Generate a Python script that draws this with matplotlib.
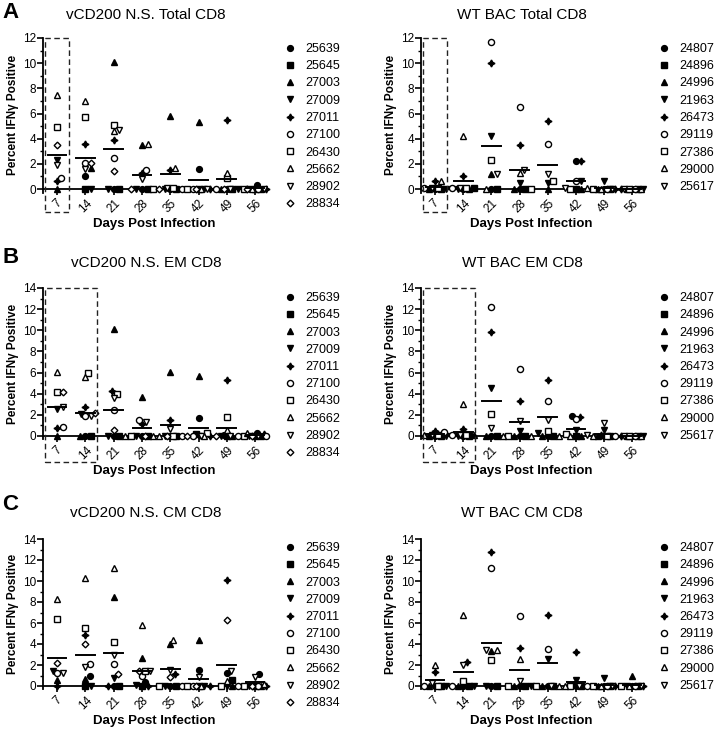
import numpy as np
import matplotlib
matplotlib.use("Agg")
import matplotlib.pyplot as plt
from matplotlib.patches import Rectangle

plt.rcParams['font.family'] = ['Liberation Sans', 'DejaVu Sans']

nan = np.nan
days = ["7", "14", "21", "28", "35", "42", "49", "56"]

vcd_ids = ["25639", "25645", "27003", "27009", "27011", "27100", "26430", "25662", "28902", "28834"]
wt_ids = ["24807", "24896", "24996", "21963", "26473", "29119", "27386", "29000", "25617"]

# rows = animals (same order as ids), columns = days
vcd_total = [
    [nan, 1.0, 0, 0, 0, 1.6, 0, 0.3],
    [nan, 0, 0, 0, 0, 0, 0, 0],
    [0, 1.7, 10.1, 3.5, 5.8, 5.3, 0, 0],
    [2.3, 0, 0, 0, 0, 0, 0, 0],
    [0.6, 3.6, 3.9, 1.3, 1.5, 0, 5.5, 0],
    [0.85, 2.1, 2.5, 1.5, 0, 0, 0, 0],
    [4.9, 5.7, 5.1, 0, 0.1, 0, 0.9, 0],
    [7.5, 7.0, 4.6, 3.6, 1.7, 0, 1.3, 0],
    [1.9, 1.6, 4.7, 0.8, 0.1, 0, 0, 0],
    [3.5, 2.1, 1.4, 0, 0, 0, 0, 0],
]
vcd_total_mean = [2.7, 2.5, 3.2, 1.1, 1.2, 0.7, 0.8, 0.05]

wt_total = [
    [0, 0, 0, 0, nan, 2.2, 0, 0],
    [0, 0.1, 0, 0, nan, 0, 0, 0],
    [0, 0, 1.2, 0, 0, 0, 0, 0],
    [0, 0, 4.2, 0.5, 0.5, 0.6, 0.6, 0],
    [0.6, 1.0, 10.0, 3.5, 5.4, 2.2, 0, 0],
    [0.1, 0.1, 11.7, 6.5, 3.6, 0.6, 0, 0],
    [0.1, 0.1, 2.3, 0, 0.6, 0, 0, 0],
    [0.6, 4.2, 0, 1.3, nan, 0.1, 0, 0],
    [0.1, 0.1, 1.2, 1.5, 1.2, 0.1, 0, 0],
]
wt_total_mean = [0.17, 0.6, 3.4, 1.5, 1.9, 0.6, 0.07, 0.03]

vcd_em = [
    [nan, 0, 0, 0, 0, 1.7, 0.1, 0.3],
    [nan, 0, 0, 0, 0, 0.2, 0, 0],
    [0, 0, 10.1, 3.7, 6.1, 5.7, 0, 0],
    [2.6, 2.1, 0, 0, 0, 0, 0, 0],
    [0.75, 2.7, 4.3, 1.1, 1.5, 0, 5.3, 0.2],
    [0.85, 1.9, 2.5, 1.5, 0, 0, 0, 0],
    [4.2, 6.0, 4.0, 0, 0, 0.3, 1.8, 0],
    [6.1, 5.6, 0, 0, 0, 0, 0.6, 0.3],
    [2.7, 1.9, 3.6, 1.3, 0.7, 0, 0, 0],
    [4.2, 2.2, 0.6, 0, 0, 0, 0, 0],
]
vcd_em_mean = [2.7, 2.2, 2.5, 0.8, 1.0, 0.8, 0.8, 0.1]

wt_em = [
    [0, 0, 0, 0, 0, 1.9, 0, 0],
    [0, 0, 0, 0, 0, 0, 0, 0],
    [0, 0.1, 0, 0, 0, 0, 0, 0],
    [0, 0, 4.5, 0.5, 0.3, 0.6, 0.6, 0],
    [0.5, 0.7, 9.8, 3.3, 5.3, 1.8, 0.1, 0],
    [0.4, 0.1, 12.2, 6.3, 3.3, 1.6, 0, 0],
    [0.1, 0.1, 2.1, 0, 0.5, 0.2, 0, 0],
    [0.1, 3.0, 0, 0, 0, 0, 0, 0],
    [0.1, 0.1, 0.8, 1.4, 1.5, 0.1, 1.2, 0],
]
wt_em_mean = [0.15, 0.4, 3.3, 1.3, 1.8, 0.7, 0.2, 0.03]

vcd_cm = [
    [nan, 1.0, 0, 0.4, 0, 1.5, 1.2, 1.1],
    [nan, 0, 0, 0, 0, 0, 0.6, 0],
    [0.6, 0.7, 8.5, 2.7, 4.0, 4.4, 0, 0],
    [1.4, 0, 0.8, 0.1, 0, 0, 0, 0],
    [0, 4.9, 0, 0, 1.1, 0, 10.1, 0],
    [1.2, 2.1, 2.1, 1.0, 0, 0, 0, 0],
    [6.4, 5.5, 4.2, 1.4, 0, 0, 0, 0],
    [8.3, 10.3, 11.2, 5.8, 4.4, 0, 0.5, 0.2],
    [1.2, 1.8, 3.0, 1.4, 1.5, 0.9, 1.4, 0.9],
    [2.2, 4.0, 1.1, 1.4, 0.9, 0, 6.3, 0],
]
vcd_cm_mean = [2.7, 3.0, 3.1, 1.4, 1.6, 0.7, 2.0, 0.35]

wt_cm = [
    [0, 0, 0, 0, 0, 0, 0, 0],
    [0, 0, 0, 0, 0, 0, 0, 0],
    [0, 0, 3.3, 0, 0, 0.2, 0, 1.0],
    [0, 0, 0, 0, 2.6, 0.6, 0.8, 0],
    [1.3, 2.3, 12.8, 3.6, 6.8, 3.2, 0, 0],
    [0, 0, 11.2, 6.7, 3.5, 0, 0, 0],
    [0, 0.5, 2.5, 0, 0, 0, 0, 0],
    [2.0, 6.8, 3.4, 2.6, 0, 0, 0, 0],
    [0.3, 2.0, 3.4, 0.5, 0, 0, 0, 0],
]
wt_cm_mean = [0.6, 1.3, 4.1, 1.5, 2.2, 0.4, 0.1, 0.1]

titles = ["vCD200 N.S. Total CD8", "WT BAC Total CD8",
          "vCD200 N.S. EM CD8", "WT BAC EM CD8",
          "vCD200 N.S. CM CD8", "WT BAC CM CD8"]

# marker styles: (marker, filled, size)
styles = [('o', True, 4.2), ('s', True, 3.8), ('^', True, 4.4), ('v', True, 4.4),
          ((4, 1, 0), True, 5.0), ('o', False, 4.4), ('s', False, 4.3),
          ('^', False, 4.7), ('v', False, 4.7), ('D', False, 3.4)]

W, H = 720, 729
fig = plt.figure(figsize=(W / 100, H / 100), dpi=100)


def swarm(vals, sx, sy):
    offs = np.zeros(len(vals))
    order = np.argsort(np.nan_to_num(vals, nan=1e9))
    cands = np.arange(-0.4, 0.401, 0.05)
    cands = cands[np.argsort(np.abs(cands) + 1e-6 * (cands < 0))]
    placed = []
    for i in order:
        v = vals[i]
        if np.isnan(v):
            continue
        best, bestd = 0.0, -1
        for c in cands:
            d = min([((c - po) / sx) ** 2 + ((v - pv) / sy) ** 2 for po, pv in placed] + [99])
            if d >= 1:
                best = c
                break
            if d > bestd:
                bestd, best = d, c
        offs[i] = best
        placed.append((best, v))
    return offs


def panel(x0, x1, ytop, yzero, ymax, data, means, ids, box=None, boxdepth=24):
    ppu = (yzero - ytop) / ymax
    ymin = 0.3
    ybot = yzero + ymin * ppu
    ax = fig.add_axes([x0 / W, 1 - ybot / H, (x1 - x0) / W, (ybot - ytop) / H])
    ax.set_xlim(0.5, 8.35)
    ax.set_ylim(-ymin, ymax)
    for s in ['top', 'right']:
        ax.spines[s].set_visible(False)
    ax.spines['bottom'].set_position(('data', 0))
    for s in ['left', 'bottom']:
        ax.spines[s].set_linewidth(1.3)
    ax.set_yticks(np.arange(0, ymax + 0.1, 2))
    ax.set_yticks(np.arange(0, ymax + 0.1, 1), minor=True)
    ax.tick_params(axis='y', which='major', length=4, width=1.2, labelsize=8.5, pad=1)
    ax.tick_params(axis='y', which='minor', length=2.5, width=1.0)
    xs = np.arange(1, 9)
    ax.set_xticks(xs)
    ax.set_xticklabels(days, rotation=45, ha='center', va='top')
    ax.tick_params(axis='x', length=4, width=1.2, labelsize=8.5, pad=2)
    ax.set_ylabel("Percent IFNγ Positive", fontsize=8.5, fontweight='bold', labelpad=3)
    ax.set_xlabel("Days Post Infection", fontsize=9.5, fontweight='bold', labelpad=2)
    arr = np.array(data, dtype=float)
    pxu = (x1 - x0) / 7.85
    sx, sy = 4.5 / pxu, 5.0 / ppu
    offs = np.zeros_like(arr)
    for j in range(arr.shape[1]):
        offs[:, j] = swarm(arr[:, j], sx, sy)
    for i, aid in enumerate(ids):
        m, filled, ms = styles[i]
        ax.plot(xs + offs[i], arr[i], ls='none', marker=m, ms=ms,
                mfc='black' if filled else 'white', mec='black', mew=1.0,
                clip_on=False, zorder=4, label=aid)
    for j, mv in enumerate(means):
        ax.plot([xs[j] - 0.33, xs[j] + 0.33], [mv, mv], color='black', lw=1.4, zorder=5)
    if box is not None:
        b0, b1 = box
        yb = -boxdepth / ppu
        ax.add_patch(Rectangle((b0 - 0.42, yb), (b1 - b0) + 0.84, ymax - yb, fill=False,
                               ls=(0, (4, 2.5)), lw=1.0, ec='#222222', clip_on=False, zorder=6))
    return ax


def legend(ax, xpx, ypx):
    return ax.legend(loc='upper left', bbox_to_anchor=(xpx / W, 1 - ypx / H),
                     bbox_transform=fig.transFigure, frameon=False, fontsize=9,
                     handlelength=1.0, handletextpad=0.7, labelspacing=0.42,
                     borderpad=0, borderaxespad=0, numpoints=1)


rows = [
    (38, 189, 12, vcd_total, vcd_total_mean, wt_total, wt_total_mean, (1, 1), (1, 1), 23),
    (288, 436, 14, vcd_em, vcd_em_mean, wt_em, wt_em_mean, (1, 2), (1, 2), 26),
    (539, 686, 14, vcd_cm, vcd_cm_mean, wt_cm, wt_cm_mean, None, None, 26),
]
title_y = [15, 263, 513]
letter_y = [12, 258, 505]
leg_y = [43, 292, 542]
letters = ["A", "B", "C"]
for r, (ytop, yzero, ymax, dl, ml, dr, mr, bl, br, bd) in enumerate(rows):
    axl = panel(43, 265, ytop, yzero, ymax, dl, ml, vcd_ids, bl, bd)
    axr = panel(421, 642, ytop, yzero, ymax, dr, mr, wt_ids, br, bd)
    legend(axl, 284, leg_y[r])
    legend(axr, 658, leg_y[r])
    fig.text(146 / W, 1 - title_y[r] / H, titles[2 * r], ha='center', va='center', fontsize=11)
    fig.text(522 / W, 1 - title_y[r] / H, titles[2 * r + 1], ha='center', va='center', fontsize=11)
    fig.text(2 / W, 1 - letter_y[r] / H, letters[r], ha='left', va='center', fontsize=16, fontweight='bold')

fig.savefig("out.png", dpi=100)
